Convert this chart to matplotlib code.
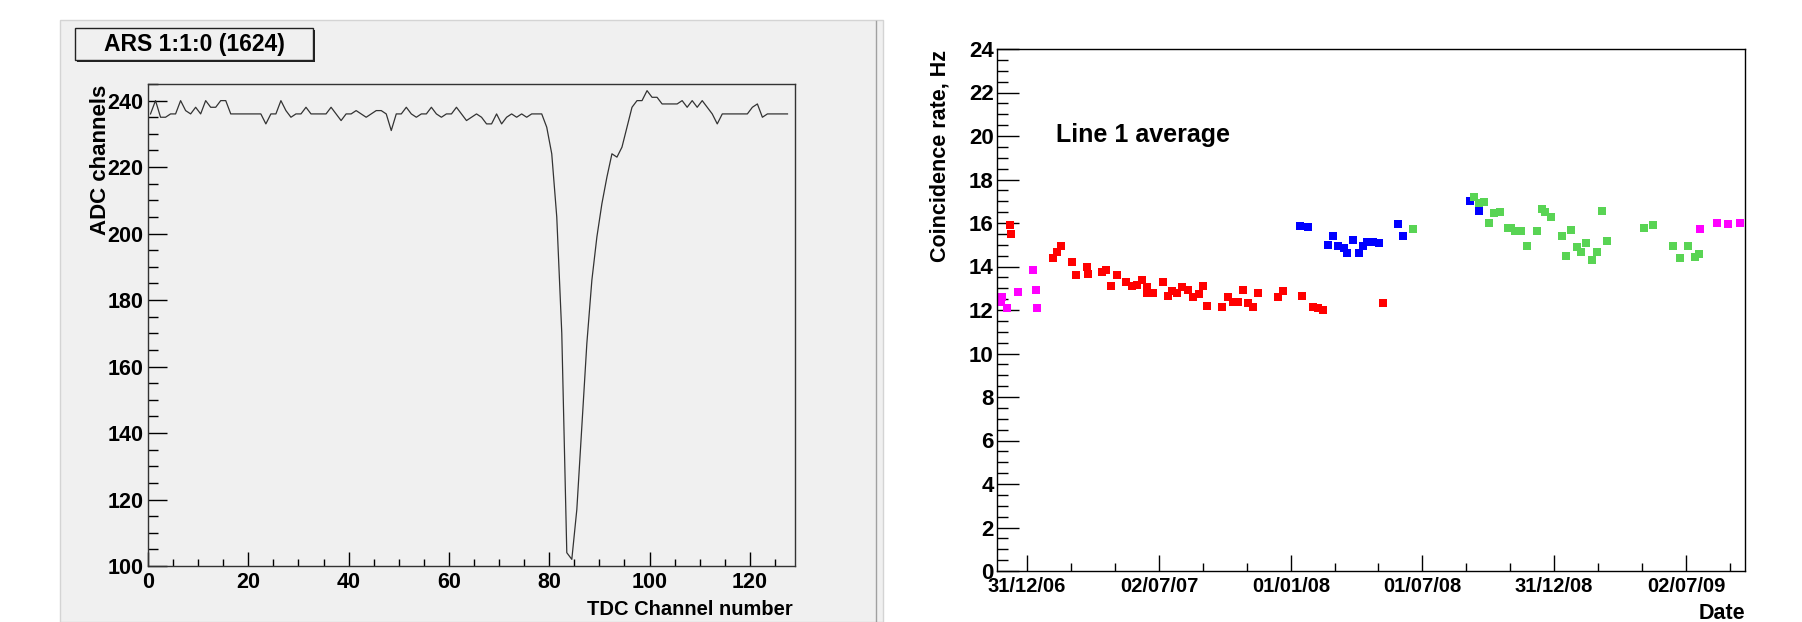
import numpy as np
import matplotlib
matplotlib.use('Agg')
import matplotlib.pyplot as plt
import matplotlib.dates as mdates
from matplotlib.patches import Rectangle
from matplotlib.ticker import MultipleLocator, FixedLocator
from datetime import datetime

plt.rcParams['font.family'] = ['Liberation Sans', 'DejaVu Sans']
plt.rcParams['font.weight'] = 'bold'

# ---- left panel: ARS waveform ----
adc = [236, 240, 235, 235, 236, 236, 240, 237, 236, 238,
       236, 240, 238, 238, 240, 240, 236, 236, 236, 236,
       236, 236, 236, 233, 236, 236, 240, 237, 235, 236,
       236, 238, 236, 236, 236, 236, 238, 236, 234, 236,
       236, 237, 236, 235, 236, 237, 237, 236, 231, 236,
       236, 238, 236, 235, 236, 236, 238, 236, 235, 236,
       236, 238, 236, 234, 235, 236, 235, 233, 233, 236,
       233, 235, 236, 235, 236, 235, 236, 236, 236, 232,
       224, 205, 170, 104, 102, 117, 142, 167, 186, 199,
       209, 217, 224, 223, 226, 232, 238, 240, 240, 243,
       241, 241, 239, 239, 239, 239, 240, 238, 240, 238,
       240, 238, 236, 233, 236, 236, 236, 236, 236, 236,
       238, 239, 235, 236, 236, 236, 236, 236]
channel = np.arange(len(adc)) + 0.5
ars_title = 'ARS 1:1:0 (1624)'

# ---- right panel: coincidence rate vs date ----
magenta_dates = ['2006-11-26', '2006-11-25', '2006-12-03', '2006-12-18', '2007-01-09',
                 '2007-01-13', '2007-01-14', '2009-07-21', '2009-08-14', '2009-08-29',
                 '2009-09-15']
magenta_rate = [12.6, 12.35, 12.1, 12.85, 13.85, 12.9, 12.1, 15.72, 16.0, 15.95, 16.0]

red_dates = ['2006-12-08', '2006-12-09', '2007-02-05', '2007-02-10', '2007-02-16',
             '2007-03-03', '2007-03-09', '2007-03-24', '2007-03-25', '2007-04-14',
             '2007-04-20', '2007-04-27', '2007-05-05', '2007-05-18', '2007-05-25',
             '2007-06-01', '2007-06-08', '2007-06-15', '2007-06-16', '2007-06-24',
             '2007-07-07', '2007-07-14', '2007-07-20', '2007-07-27', '2007-08-03',
             '2007-08-11', '2007-08-18', '2007-08-26', '2007-09-01', '2007-09-07',
             '2007-09-28', '2007-10-06', '2007-10-13', '2007-10-19', '2007-10-26',
             '2007-11-03', '2007-11-09', '2007-11-16', '2007-12-14', '2007-12-21',
             '2008-01-16', '2008-01-31', '2008-02-08', '2008-02-14', '2008-05-08']
red_rate = [15.9, 15.5, 14.38, 14.68, 14.93, 14.19, 13.6, 14.0, 13.67, 13.75,
            13.85, 13.1, 13.6, 13.3, 13.1, 13.16, 13.4, 13.07, 12.77, 12.8,
            13.3, 12.66, 12.89, 12.77, 13.07, 12.92, 12.6, 12.72, 13.1, 12.17,
            12.12, 12.61, 12.35, 12.35, 12.9, 12.31, 12.12, 12.8, 12.6, 12.86,
            12.66, 12.12, 12.08, 12.02, 12.31]

blue_dates = ['2008-01-14', '2008-01-25', '2008-02-22', '2008-02-29', '2008-03-06',
              '2008-03-14', '2008-03-19', '2008-03-27', '2008-04-04', '2008-04-10',
              '2008-04-16', '2008-04-24', '2008-05-02', '2008-05-29', '2008-06-05',
              '2008-09-05', '2008-09-18']
blue_rate = [15.86, 15.82, 14.97, 15.42, 14.93, 14.87, 14.62, 15.23, 14.62, 14.93,
             15.13, 15.13, 15.08, 15.97, 15.42, 17.0, 16.57]

green_dates = ['2008-06-18', '2008-09-11', '2008-09-18', '2008-09-25', '2008-10-02',
               '2008-10-09', '2008-10-17', '2008-10-28', '2008-11-01', '2008-11-07',
               '2008-11-15', '2008-11-23', '2008-12-07', '2008-12-14', '2008-12-19',
               '2008-12-27', '2009-01-11', '2009-01-17', '2009-01-24', '2009-02-01',
               '2009-02-06', '2009-02-13', '2009-02-22', '2009-03-01', '2009-03-07',
               '2009-03-15', '2009-05-04', '2009-05-17', '2009-06-14', '2009-06-23',
               '2009-07-05', '2009-07-14', '2009-07-20']
green_rate = [15.71, 17.21, 16.93, 16.95, 16.01, 16.45, 16.49, 15.76, 15.79, 15.63,
              15.63, 14.96, 15.63, 16.63, 16.49, 16.29, 15.42, 14.5, 15.68, 14.88,
              14.65, 15.1, 14.3, 14.68, 16.57, 15.19, 15.76, 15.91, 14.93, 14.41,
              14.93, 14.44, 14.57]

tick_dates = ['2006-12-31', '2007-07-02', '2008-01-01', '2008-07-01', '2008-12-31', '2009-07-02']


def to_dt(lst):
    return [datetime.strptime(d, '%Y-%m-%d') for d in lst]


W, H = 1802, 622
fig = plt.figure(figsize=(W / 100, H / 100), dpi=100)
fig.patch.set_facecolor('white')


def fx(x):
    return x / W


def fy(y):
    return 1 - y / H


# gray ROOT canvas on the left
fig.patches.append(Rectangle((fx(60), 0), fx(883) - fx(60), fy(20), transform=fig.transFigure,
                             facecolor='#f0f0f0', edgecolor='#d4d4d4', lw=1, zorder=-5))
fig.add_artist(plt.Line2D([fx(876), fx(876)], [0, fy(21)], color='#a0a0a0', lw=1, zorder=-4))

# title box with shadow
fig.patches.append(Rectangle((fx(77), fy(62)), fx(313) - fx(75), fy(28) - fy(60),
                             transform=fig.transFigure, facecolor='#222222', edgecolor='none', zorder=1))
fig.patches.append(Rectangle((fx(75), fy(60)), fx(313) - fx(75), fy(28) - fy(60),
                             transform=fig.transFigure, facecolor='#f0f0f0', edgecolor='#222222',
                             lw=1, zorder=2))
fig.text(fx(194), fy(44), ars_title, ha='center', va='center', fontsize=16.5, zorder=3)

ax1 = fig.add_axes([fx(148), fy(566), fx(795) - fx(148), fy(84) - fy(566)])
ax1.set_facecolor('#f0f0f0')
ax1.plot(channel, adc, color='#333333', lw=0.9)
ax1.set_xlim(0, 129)
ax1.set_ylim(100, 245)
ax1.xaxis.set_major_locator(MultipleLocator(20))
ax1.xaxis.set_minor_locator(MultipleLocator(5))
ax1.yaxis.set_major_locator(MultipleLocator(20))
ax1.yaxis.set_minor_locator(MultipleLocator(5))
ax1.tick_params(axis='both', which='both', direction='in', colors='black', width=1,
                labelsize=15.5, top=False, right=False)
ax1.tick_params(axis='y', which='major', length=14, pad=3.5)
ax1.tick_params(axis='y', which='minor', length=7)
ax1.tick_params(axis='x', which='major', length=10.4, pad=4)
ax1.tick_params(axis='x', which='minor', length=5.2)
for s in ax1.spines.values():
    s.set_color('#333333')
    s.set_linewidth(1)
fig.text(fx(101), fy(85), 'ADC channels', rotation=90, ha='center', va='top', fontsize=16)
fig.text(fx(793), fy(615), 'TDC Channel number', ha='right', va='baseline', fontsize=14.5)

# ---- right plot ----
ax2 = fig.add_axes([fx(997), fy(571), fx(1745) - fx(997), fy(49) - fy(571)])
ms = 5.2
ax2.plot(to_dt(red_dates), red_rate, 's', color='#ff0000', ms=ms, mew=0)
ax2.plot(to_dt(blue_dates), blue_rate, 's', color='#0000ff', ms=ms, mew=0)
ax2.plot(to_dt(green_dates), green_rate, 's', color='#59d454', ms=ms, mew=0)
ax2.plot(to_dt(magenta_dates), magenta_rate, 's', color='#ff00ff', ms=ms, mew=0)
ax2.set_xlim(datetime(2006, 11, 19, 10), datetime(2009, 9, 21, 18))
ax2.set_ylim(0, 24)

major_num = mdates.date2num(to_dt(tick_dates))
minor_num = []
for a, b in zip(major_num[:-1], major_num[1:]):
    minor_num += [a + (b - a) / 3, a + 2 * (b - a) / 3]
step = (major_num[-1] - major_num[0]) / (len(major_num) - 1) / 3
minor_num += [major_num[-1] + step, major_num[-1] + 2 * step]
ax2.xaxis.set_major_locator(FixedLocator(major_num))
ax2.xaxis.set_minor_locator(FixedLocator(minor_num))
ax2.xaxis.set_major_formatter(mdates.DateFormatter('%d/%m/%y'))
ax2.yaxis.set_major_locator(MultipleLocator(2))
ax2.yaxis.set_minor_locator(MultipleLocator(0.5))
ax2.tick_params(axis='both', which='both', direction='in', colors='black', width=1,
                top=False, right=False)
ax2.tick_params(axis='y', which='major', length=16.1, pad=2.5, labelsize=16)
ax2.tick_params(axis='y', which='minor', length=8.1)
ax2.tick_params(axis='x', which='major', length=11.3, pad=4, labelsize=14.5)
ax2.tick_params(axis='x', which='minor', length=5.6)
for s in ax2.spines.values():
    s.set_color('black')
    s.set_linewidth(1)

fig.text(fx(1056), fy(142), 'Line 1 average', ha='left', va='baseline', fontsize=18)
fig.text(fx(940), fy(50), 'Coincidence rate, Hz', rotation=90, ha='center', va='top', fontsize=15.5)
fig.text(fx(1745), fy(619), 'Date', ha='right', va='baseline', fontsize=15.5)

fig.savefig('out.png', dpi=100, facecolor='white')
